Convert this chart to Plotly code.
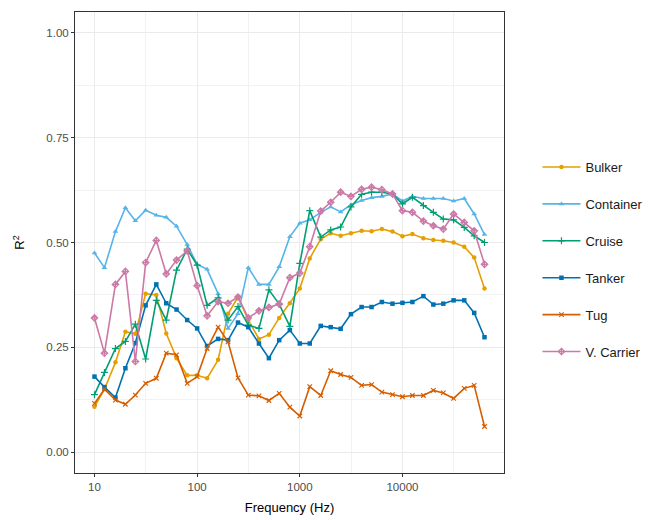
import plotly.graph_objects as go
import numpy as np

# One-third octave band centre frequencies (Hz)
freq = [10, 12.5, 16, 20, 25, 31.5, 40, 50, 63, 80, 100, 125, 160, 200, 250, 315,
        400, 500, 630, 800, 1000, 1250, 1600, 2000, 2500, 3150, 4000, 5000, 6300,
        8000, 10000, 12500, 16000, 20000, 25000, 31500, 40000, 50000, 63000]

bulker = [0.108, 0.150, 0.214, 0.287, 0.282, 0.378, 0.375, 0.283, 0.224, 0.183,
          0.183, 0.176, 0.220, 0.330, 0.370, 0.315, 0.270, 0.280, 0.320, 0.355,
          0.390, 0.462, 0.508, 0.522, 0.516, 0.522, 0.528, 0.527, 0.532, 0.526,
          0.515, 0.520, 0.510, 0.506, 0.504, 0.500, 0.490, 0.464, 0.390]

container = [0.475, 0.440, 0.526, 0.583, 0.552, 0.577, 0.565, 0.560, 0.539, 0.495,
             0.448, 0.436, 0.378, 0.295, 0.330, 0.440, 0.400, 0.400, 0.442, 0.514,
             0.546, 0.554, 0.572, 0.585, 0.573, 0.590, 0.600, 0.607, 0.610, 0.616,
             0.599, 0.610, 0.605, 0.605, 0.605, 0.599, 0.605, 0.568, 0.519]

cruise = [0.137, 0.190, 0.247, 0.264, 0.305, 0.222, 0.362, 0.315, 0.434, 0.484,
          0.446, 0.350, 0.368, 0.315, 0.347, 0.303, 0.295, 0.387, 0.353, 0.300,
          0.450, 0.576, 0.513, 0.530, 0.537, 0.585, 0.615, 0.620, 0.620, 0.616,
          0.592, 0.608, 0.588, 0.572, 0.556, 0.554, 0.536, 0.516, 0.500]

tanker = [0.180, 0.155, 0.130, 0.200, 0.260, 0.350, 0.400, 0.355, 0.340, 0.315,
          0.295, 0.253, 0.270, 0.267, 0.309, 0.298, 0.259, 0.224, 0.267, 0.291,
          0.259, 0.259, 0.301, 0.298, 0.294, 0.329, 0.346, 0.346, 0.358, 0.354,
          0.356, 0.358, 0.372, 0.352, 0.354, 0.362, 0.362, 0.332, 0.274]

tug = [0.116, 0.150, 0.124, 0.114, 0.136, 0.164, 0.176, 0.236, 0.232, 0.164,
       0.180, 0.247, 0.298, 0.263, 0.177, 0.136, 0.134, 0.123, 0.140, 0.107,
       0.086, 0.156, 0.135, 0.194, 0.185, 0.178, 0.159, 0.161, 0.143, 0.137,
       0.132, 0.135, 0.135, 0.147, 0.141, 0.128, 0.152, 0.159, 0.061]

v_carrier = [0.320, 0.236, 0.400, 0.431, 0.216, 0.452, 0.505, 0.425, 0.458, 0.480,
             0.397, 0.325, 0.359, 0.355, 0.370, 0.320, 0.337, 0.345, 0.353, 0.416,
             0.427, 0.490, 0.575, 0.596, 0.620, 0.610, 0.627, 0.632, 0.626, 0.616,
             0.576, 0.572, 0.551, 0.540, 0.532, 0.568, 0.548, 0.528, 0.448]

series = [
    ("Bulker", bulker, "#E69F00", "circle", 4.5),
    ("Container", container, "#56B4E9", "triangle-up", 5),
    ("Cruise", cruise, "#009E73", "cross-thin", 5),
    ("Tanker", tanker, "#0072B2", "square", 4.5),
    ("Tug", tug, "#D55E00", "x-thin", 4.5),
    ("V. Carrier", v_carrier, "#CC79A7", "diamond-cross-open", 5),
]

x_ticks = [10, 100, 1000, 10000]
x_tick_text = ["10", "100", "1000", "10000"]
y_ticks = [0, 0.25, 0.5, 0.75, 1.0]

fig = go.Figure()
for name, vals, color, sym, msize in series:
    thin = sym.endswith("thin") or sym.endswith("open")
    fig.add_trace(go.Scatter(
        x=freq, y=vals, name=name, mode="lines+markers",
        legendgroup=name,
        line=dict(color=color, width=1.6),
        marker=dict(symbol=sym, size=msize, color=color,
                    line=dict(color=color, width=1.2 if thin else 0)),
    ))

# ggplot-style expansion of the axis ranges (5% each side)
lx = np.log10([min(freq), max(freq)])
pad = 0.05 * (lx[1] - lx[0])
x_range = [lx[0] - pad, lx[1] + pad]
minor_x = [10 ** (k + 0.5) for k in range(0, 5)]

font = "Liberation Sans, Arial, sans-serif"
fig.update_layout(
    width=660, height=520,
    margin=dict(l=75, r=150, t=12, b=47),
    paper_bgcolor="white", plot_bgcolor="white",
    font=dict(family=font, color="#000000"),
    showlegend=True,
    legend=dict(x=1.078, xanchor="left", y=0.463, yanchor="middle",
                font=dict(size=13, color="#1A1A1A", family=font),
                itemwidth=38,
                tracegroupgap=17, bgcolor="rgba(0,0,0,0)"),
    xaxis=dict(
        type="log", range=x_range, automargin=False,
        tickmode="array", tickvals=x_ticks, ticktext=x_tick_text,
        ticks="outside", ticklen=3, tickcolor="#333333", tickwidth=1,
        tickfont=dict(size=11.5, color="#4D4D4D"),
        showgrid=True, gridcolor="#EBEBEB", gridwidth=1,
        minor=dict(tickmode="array", tickvals=minor_x, showgrid=True,
                   gridcolor="#F2F2F2", gridwidth=0.6, ticks=""),
        showline=True, linecolor="#333333", linewidth=1, mirror=True,
        zeroline=False,
        title=dict(text="Frequency (Hz)", font=dict(size=13, color="#000000"),
                   standoff=11),
    ),
    yaxis=dict(
        range=[-0.05, 1.05], automargin=False,
        tickmode="array", tickvals=y_ticks, tickformat=".2f",
        ticks="outside", ticklen=3, tickcolor="#333333", tickwidth=1,
        tickfont=dict(size=11.5, color="#4D4D4D"),
        showgrid=True, gridcolor="#EBEBEB", gridwidth=1,
        minor=dict(tickmode="array", tickvals=[0.125, 0.375, 0.625, 0.875],
                   showgrid=True, gridcolor="#F2F2F2", gridwidth=0.6, ticks=""),
        showline=True, linecolor="#333333", linewidth=1, mirror=True,
        zeroline=False,
        title=dict(text="R<sup>2</sup>", font=dict(size=13, color="#000000"),
                   standoff=18),
    ),
)

fig.write_html("out.html")
